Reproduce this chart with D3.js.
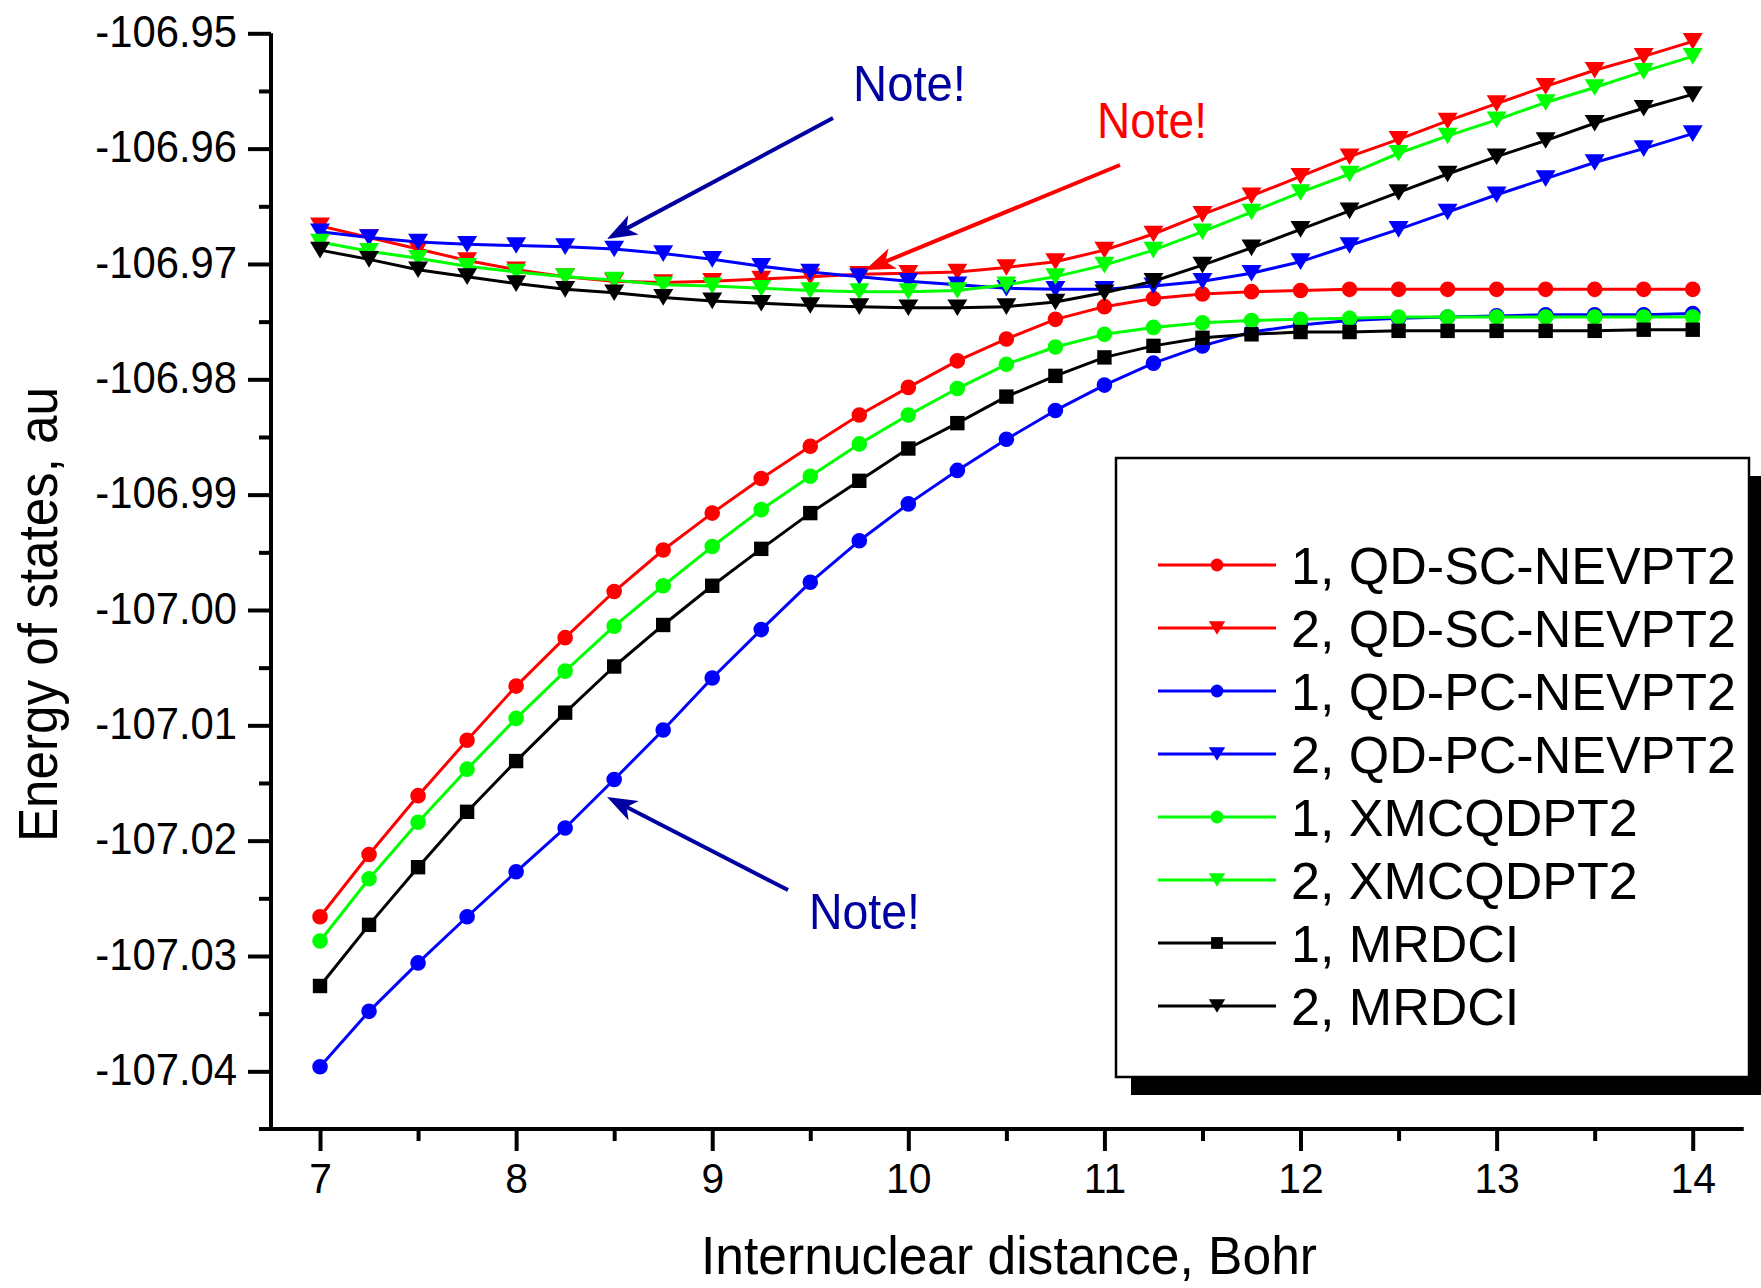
<!DOCTYPE html>
<html>
<head>
<meta charset="utf-8">
<script src="https://cdn.jsdelivr.net/npm/d3@7"></script>
<style>
  html, body { margin: 0; padding: 0; background: #fff; }
  svg { display: block; }
  text { font-family: "Liberation Sans", Arial, sans-serif; }
</style>
</head>
<body>
<svg id="chart" width="1761" height="1288"></svg>
<script>
// ---------------- data ----------------
const xs = [7, 7.25, 7.5, 7.75, 8, 8.25, 8.5, 8.75, 9, 9.25, 9.5, 9.75, 10, 10.25, 10.5, 10.75,
            11, 11.25, 11.5, 11.75, 12, 12.25, 12.5, 12.75, 13, 13.25, 13.5, 13.75, 14];

const sc1 = [-107.0266, -107.0212, -107.0161, -107.0113, -107.0066, -107.0024, -106.9984, -106.9948,
             -106.9916, -106.9886, -106.9858, -106.9831, -106.9807, -106.9784, -106.9765, -106.9748,
             -106.9737, -106.9730, -106.9726, -106.9724, -106.9723, -106.9722, -106.9722, -106.9722,
             -106.9722, -106.9722, -106.9722, -106.9722, -106.9722];
const sc2 = [-106.9667, -106.9677, -106.9687, -106.9697, -106.9705, -106.9711, -106.9715, -106.9716,
             -106.9715, -106.9713, -106.9711, -106.9709, -106.9708, -106.9707, -106.9703, -106.9698,
             -106.9688, -106.9674, -106.9657, -106.9641, -106.9624, -106.9607, -106.9592, -106.9576,
             -106.9561, -106.9546, -106.9532, -106.9520, -106.9507];
const pc1 = [-107.0396, -107.0348, -107.0306, -107.0266, -107.0227, -107.0189, -107.0147, -107.0104,
             -107.0059, -107.0017, -106.9976, -106.9940, -106.9908, -106.9879, -106.9852, -106.9827,
             -106.9805, -106.9786, -106.9771, -106.9759, -106.9753, -106.9749, -106.9747, -106.9746,
             -106.9745, -106.9744, -106.9744, -106.9744, -106.9743];
const pc2 = [-106.9672, -106.9677, -106.9681, -106.9683, -106.9684, -106.9685, -106.9687, -106.9691,
             -106.9696, -106.9702, -106.9707, -106.9711, -106.9715, -106.9718, -106.9721, -106.9722,
             -106.9722, -106.9719, -106.9715, -106.9708, -106.9698, -106.9684, -106.9670, -106.9655,
             -106.9640, -106.9626, -106.9612, -106.9600, -106.9587];
const xm1 = [-107.0287, -107.0233, -107.0184, -107.0138, -107.0094, -107.0053, -107.0014, -106.9979,
             -106.9945, -106.9913, -106.9884, -106.9856, -106.9831, -106.9808, -106.9787, -106.9772,
             -106.9761, -106.9755, -106.9751, -106.9749, -106.9748, -106.9747, -106.9746, -106.9746,
             -106.9746, -106.9746, -106.9746, -106.9746, -106.9746];
const xm2 = [-106.9681, -106.9689, -106.9695, -106.9702, -106.9707, -106.9711, -106.9714, -106.9718,
             -106.9719, -106.9721, -106.9723, -106.9724, -106.9724, -106.9723, -106.9718, -106.9711,
             -106.9701, -106.9688, -106.9672, -106.9655, -106.9638, -106.9622, -106.9604, -106.9589,
             -106.9575, -106.9560, -106.9547, -106.9533, -106.9520];
const mr1 = [-107.0326, -107.0273, -107.0223, -107.0175, -107.0131, -107.0089, -107.0049, -107.0013,
             -106.9979, -106.9947, -106.9916, -106.9888, -106.9860, -106.9838, -106.9815, -106.9797,
             -106.9781, -106.9771, -106.9764, -106.9761, -106.9759, -106.9759, -106.9758, -106.9758,
             -106.9758, -106.9758, -106.9758, -106.9757, -106.9757];
const mr2 = [-106.9688, -106.9696, -106.9705, -106.9711, -106.9717, -106.9722, -106.9725, -106.9729,
             -106.9732, -106.9734, -106.9736, -106.9737, -106.9738, -106.9738, -106.9737, -106.9733,
             -106.9725, -106.9715, -106.9701, -106.9686, -106.9670, -106.9654, -106.9638, -106.9622,
             -106.9607, -106.9593, -106.9578, -106.9565, -106.9553];

const seriesNames = ["1, QD-SC-NEVPT2", "2, QD-SC-NEVPT2", "1, QD-PC-NEVPT2", "2, QD-PC-NEVPT2",
                     "1, XMCQDPT2", "2, XMCQDPT2", "1, MRDCI", "2, MRDCI"];
const seriesValues = [sc1, sc2, pc1, pc2, xm1, xm2, mr1, mr2];
const seriesColors = ["#ff0000", "#ff0000", "#0000ff", "#0000ff", "#00ff00", "#00ff00", "#000000", "#000000"];
const seriesSymbols = ["circle", "tri", "circle", "tri", "circle", "tri", "square", "tri"];

const xMajorTicks = [7, 8, 9, 10, 11, 12, 13, 14];
const xMinorTicks = [7.5, 8.5, 9.5, 10.5, 11.5, 12.5, 13.5];
const yMajorTicks = [-106.95, -106.96, -106.97, -106.98, -106.99, -107.00, -107.01, -107.02, -107.03, -107.04];
const yMinorTicks = [-106.955, -106.965, -106.975, -106.985, -106.995, -107.005, -107.015, -107.025, -107.035];

const xTitle = "Internuclear distance, Bohr";
const yTitle = "Energy of states, au";
const notes = [
  {text: "Note!", color: "#0000a0", tx: 853, ty: 101, len: 113, from: [833, 118], to: [607, 239]},
  {text: "Note!", color: "#ff0000", tx: 1097, ty: 138, len: 110, from: [1120, 165], to: [865, 270]},
  {text: "Note!", color: "#0000a0", tx: 809, ty: 929, len: 111, from: [788, 890], to: [607, 797]}
];

// ---------------- layout ----------------
const svg = d3.select("#chart");
const x = d3.scaleLinear().domain([6.75, 14.25]).range([271, 1741.75]);
const y = d3.scaleLinear().domain([-107.045, -106.95]).range([1129, 33.3]);

function squeeze(sel, f) {
  sel.each(function () {
    const L = this.getComputedTextLength();
    this.setAttribute("textLength", (L * f).toFixed(1));
    this.setAttribute("lengthAdjust", "spacingAndGlyphs");
  });
}

function symbolPath(kind, s) {
  if (kind === "circle") {
    const r = 7.8 * s;
    return `M${-r},0A${r},${r} 0 1,0 ${r},0A${r},${r} 0 1,0 ${-r},0Z`;
  } else if (kind === "square") {
    const h = 7.2 * s;
    return `M${-h},${-h}H${h}V${h}H${-h}Z`;
  } else {
    const w = 10 * s, h = 8.3 * s;
    return `M${-w},${-h}L${w},${-h}L0,${h}Z`;
  }
}

// ---------------- axes ----------------
const gy = svg.append("g").attr("transform", `translate(${x.range()[0]},0)`);
gy.call(d3.axisLeft(y).tickValues(yMajorTicks).tickSize(23).tickPadding(11)
  .tickFormat(d => d.toFixed(2)));
gy.select(".domain").remove();
gy.selectAll(".tick line").attr("stroke", "#000").attr("stroke-width", 4);
gy.selectAll(".tick text").attr("font-size", 44).attr("fill", "#000")
  .attr("font-family", "'Liberation Sans', Arial, sans-serif").attr("dy", "0.3em");
squeeze(gy.selectAll(".tick text"), 0.95);

const gyMinor = svg.append("g").attr("transform", `translate(${x.range()[0]},0)`);
gyMinor.call(d3.axisLeft(y).tickValues(yMinorTicks).tickSize(12).tickFormat(""));
gyMinor.select(".domain").remove();
gyMinor.selectAll(".tick line").attr("stroke", "#000").attr("stroke-width", 4);

const gx = svg.append("g").attr("transform", `translate(0,${y.range()[0]})`);
gx.call(d3.axisBottom(x).tickValues(xMajorTicks).tickSize(22).tickFormat(d3.format("d")));
gx.select(".domain").remove();
gx.selectAll(".tick line").attr("stroke", "#000").attr("stroke-width", 4);
gx.selectAll(".tick text").attr("font-size", 43).attr("fill", "#000")
  .attr("font-family", "'Liberation Sans', Arial, sans-serif").attr("y", 64).attr("dy", 0);
squeeze(gx.selectAll(".tick text"), 0.95);

const gxMinor = svg.append("g").attr("transform", `translate(0,${y.range()[0]})`);
gxMinor.call(d3.axisBottom(x).tickValues(xMinorTicks).tickSize(12).tickFormat(""));
gxMinor.select(".domain").remove();
gxMinor.selectAll(".tick line").attr("stroke", "#000").attr("stroke-width", 4);

// axis lines
svg.append("line").attr("x1", x.range()[0]).attr("x2", x.range()[0])
  .attr("y1", y.range()[1]).attr("y2", y.range()[0] + 2)
  .attr("stroke", "#000").attr("stroke-width", 4);
svg.append("line").attr("x1", x.range()[0] - 12).attr("x2", x.range()[1] + 2)
  .attr("y1", y.range()[0]).attr("y2", y.range()[0])
  .attr("stroke", "#000").attr("stroke-width", 4);

// axis titles
const xt = svg.append("text").attr("x", 1009).attr("y", 1274).attr("text-anchor", "middle")
  .attr("font-size", 54).attr("fill", "#000").text(xTitle);
xt.attr("textLength", 616).attr("lengthAdjust", "spacingAndGlyphs");

const yt = svg.append("text").attr("transform", "translate(57,614.5) rotate(-90)")
  .attr("text-anchor", "middle").attr("font-size", 55).attr("fill", "#000").text(yTitle);
yt.attr("textLength", 455).attr("lengthAdjust", "spacingAndGlyphs");

// ---------------- series ----------------
const line = d3.line().x(d => x(d[0])).y(d => y(d[1]));
seriesValues.forEach((vals, i) => {
  const pts = xs.map((xv, j) => [xv, vals[j]]);
  const g = svg.append("g").attr("class", "series");
  g.append("path").attr("d", line(pts)).attr("fill", "none")
    .attr("stroke", seriesColors[i]).attr("stroke-width", 3).attr("stroke-linejoin", "round");
  g.selectAll("path.m").data(pts).enter().append("path").attr("class", "m")
    .attr("transform", d => `translate(${x(d[0])},${y(d[1])})`)
    .attr("d", symbolPath(seriesSymbols[i], 1))
    .attr("fill", seriesColors[i]);
});

// ---------------- annotations ----------------
notes.forEach(n => {
  svg.append("text").attr("x", n.tx).attr("y", n.ty).attr("font-size", 50)
    .attr("fill", n.color).attr("textLength", n.len).attr("lengthAdjust", "spacingAndGlyphs")
    .text(n.text);
  const [x0, y0] = n.from, [x1, y1] = n.to;
  const dx = x1 - x0, dy = y1 - y0, L = Math.hypot(dx, dy);
  const ux = dx / L, uy = dy / L, px = -uy, py = ux;
  const hl = 30, hw = 11, notch = 22;
  svg.append("line").attr("x1", x0).attr("y1", y0)
    .attr("x2", x1 - ux * notch).attr("y2", y1 - uy * notch)
    .attr("stroke", n.color).attr("stroke-width", 4);
  const bx = x1 - ux * hl, by = y1 - uy * hl;
  const nx = x1 - ux * notch, ny = y1 - uy * notch;
  svg.append("path")
    .attr("d", `M${x1},${y1}L${bx + px * hw},${by + py * hw}L${nx},${ny}L${bx - px * hw},${by - py * hw}Z`)
    .attr("fill", n.color);
});

// ---------------- legend ----------------
const lg = svg.append("g");
lg.append("rect").attr("x", 1131).attr("y", 476).attr("width", 640).attr("height", 619).attr("fill", "#000");
lg.append("rect").attr("x", 1116).attr("y", 458).attr("width", 633).attr("height", 619)
  .attr("fill", "#fff").attr("stroke", "#000").attr("stroke-width", 2.5);
seriesNames.forEach((name, i) => {
  const cy = 565 + i * 63;
  lg.append("line").attr("x1", 1158).attr("x2", 1276).attr("y1", cy).attr("y2", cy)
    .attr("stroke", seriesColors[i]).attr("stroke-width", 3);
  lg.append("path").attr("transform", `translate(1217,${cy})`)
    .attr("d", symbolPath(seriesSymbols[i], 0.82)).attr("fill", seriesColors[i]);
  lg.append("text").attr("x", 1291).attr("y", cy + 19).attr("font-size", 52)
    .attr("fill", "#000").text(name);
});
</script>
</body>
</html>
